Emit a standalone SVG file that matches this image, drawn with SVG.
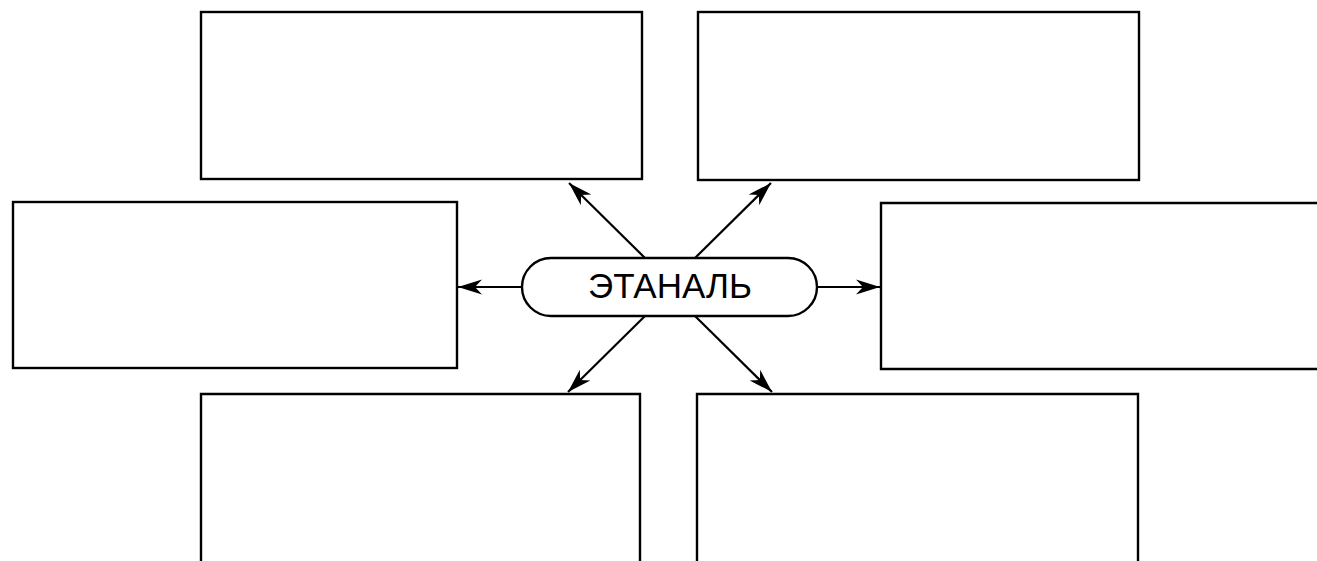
<svg xmlns="http://www.w3.org/2000/svg" width="1317" height="561" viewBox="0 0 1317 561">
<style>
.box{fill:#fff;stroke:#000;stroke-width:2.4}
.conn line{stroke:#000;stroke-width:2.2;marker-end:url(#ah)}
.label{font-family:"Liberation Sans",Arial,sans-serif;font-size:35px;fill:#000;text-anchor:middle}
</style>
<defs>
<marker id="ah" markerUnits="userSpaceOnUse" markerWidth="26" markerHeight="18" refX="24" refY="9" orient="auto">
<path d="M0,1.5 L24,9 L0,16.5 L7,9 Z" fill="#000"/>
</marker>
</defs>
<rect width="1317" height="561" fill="#fff"/>
<g id="box-top-left"><rect class="box" x="201" y="12" width="441" height="167"/></g>
<g id="box-top-right"><rect class="box" x="698" y="12" width="441" height="168"/></g>
<g id="box-left"><rect class="box" x="13" y="202" width="444" height="166"/></g>
<g id="box-right"><path class="box" d="M1320,203 H881 V369 H1320"/></g>
<g id="box-bottom-left"><path class="box" d="M201,565 V394 H640 V565"/></g>
<g id="box-bottom-right"><path class="box" d="M697,565 V394 H1138 V565"/></g>
<g id="connectors" class="conn">
<line x1="522" y1="287" x2="458" y2="287"/>
<line x1="817" y1="287" x2="880" y2="287"/>
<line x1="645" y1="258" x2="569" y2="183"/>
<line x1="695" y1="258" x2="771" y2="183"/>
<line x1="645" y1="316" x2="568" y2="392"/>
<line x1="695" y1="316" x2="772" y2="392"/>
</g>
<g id="center">
<rect class="box" x="522" y="258" width="295" height="58" rx="29" ry="29"/>
<text class="label" x="670" y="298">ЭТАНАЛЬ</text>
</g>
</svg>
